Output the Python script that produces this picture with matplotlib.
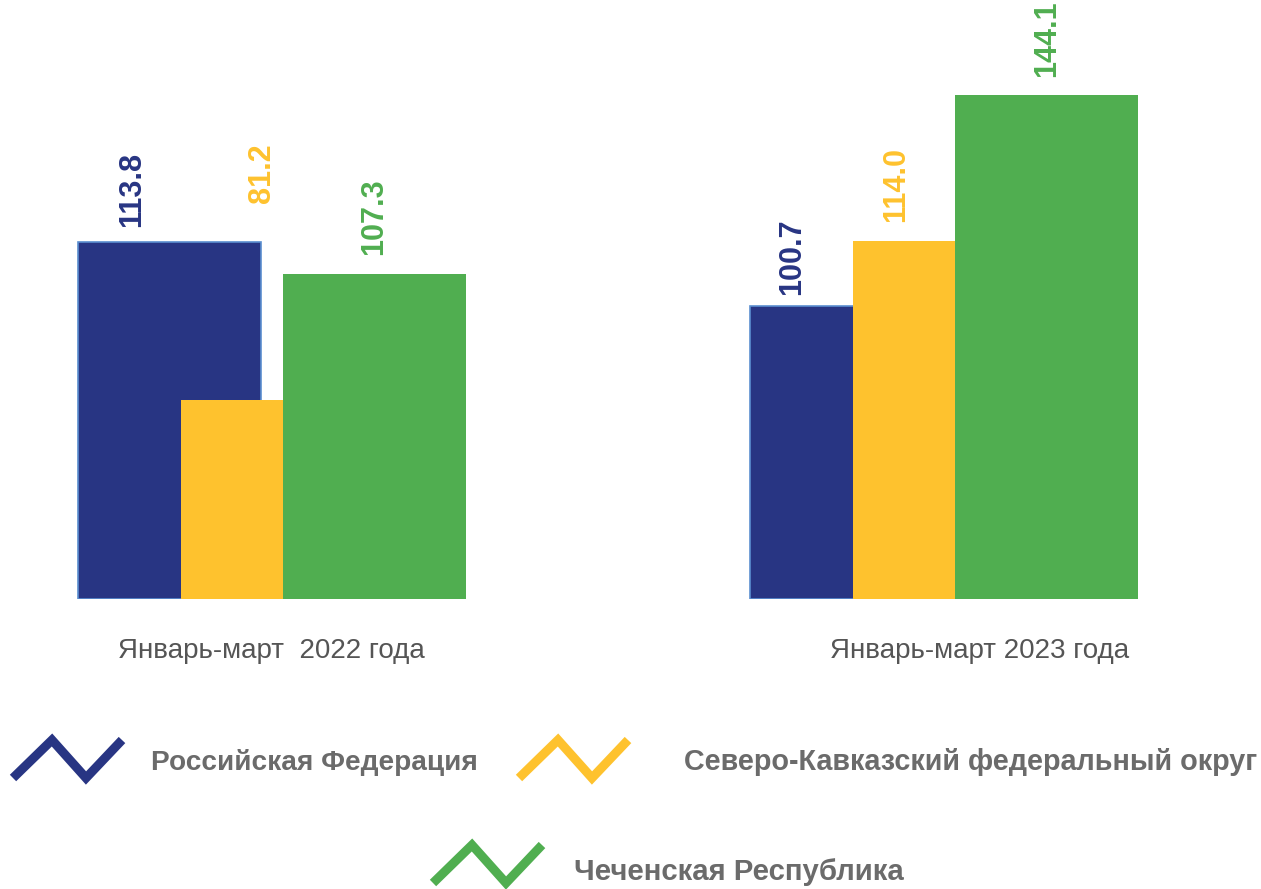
import numpy as np
import matplotlib.pyplot as plt
from matplotlib.lines import Line2D

plt.rcParams['font.family'] = ['Liberation Sans', 'DejaVu Sans']

# данные
periods = ["Январь-март  2022 года", "Январь-март 2023 года"]
series = ["Российская Федерация", "Северо-Кавказский федеральный округ", "Чеченская Республика"]
rf = [113.8, 100.7]
skfo = [81.2, 114.0]
chr_ = [107.3, 144.1]

colors = ['#283583', '#FEC22E', '#50AE50']

W, H = 1261, 889
fig = plt.figure(figsize=(W / 100, H / 100), dpi=100)

# оси: низ на 599 px, ось y начинается примерно с 40
y0 = 40.2
ax = fig.add_axes([0, (H - 599) / H, 1, 599 / H])
ax.set_ylim(y0, y0 + 599 / 4.85)
unit = 671.5  # px между группами
ax.set_xlim(-272 / unit, (W - 272) / unit)
ax.axis('off')

x = np.arange(len(periods))
# левый край и ширина столбиков (в долях группы)
lefts = [-194 / unit, -91 / unit, 11 / unit]
widths = [183 / unit, 102 / unit, 183 / unit]

vals = [rf, skfo, chr_]
for i, v in enumerate(vals):
    ec = '#5B8FD0' if i == 0 else colors[i]
    lw = 1.2 if i == 0 else 0
    bars = ax.bar(x + lefts[i], np.array(v) - y0, widths[i], bottom=y0, align='edge',
                  color=colors[i], edgecolor=ec, linewidth=lw, zorder=2 + i)

# подписи значений (смещения в px от центра столбика)
dx = [[-37, -49], [30, -7], [0, 1]]
dy = [[15, 11], [197, 19], [19, 18]]
for i, v in enumerate(vals):
    for j, val in enumerate(v):
        cx = x[j] + lefts[i] + widths[i] / 2
        ax.annotate(f"{val:.1f}", xy=(cx, val), xytext=(dx[i][j] * 0.72, dy[i][j] * 0.72),
                    textcoords='offset points', rotation=90, ha='center', va='bottom',
                    fontsize=22, fontweight='bold', color=colors[i], annotation_clip=False)

# подписи периодов
cat_dx = [-1, 36.5]
for j, p in enumerate(periods):
    ax.annotate(p, xy=(x[j] + cat_dx[j] / unit, (H - 651) / H), xycoords=('data', 'figure fraction'),
                ha='center', va='center', fontsize=20, color='#555555', annotation_clip=False)

# легенда
zig_x = np.array([0, 39, 73, 109])
zig_y = np.array([0, 38, 0, 38])


def legend_item(px, py, color, label, tx, ty, fs):
    fig.add_artist(Line2D((px + zig_x) / W, (H - py + zig_y) / H, transform=fig.transFigure,
                          color=color, linewidth=6.5, solid_joinstyle='miter',
                          solid_capstyle='butt'))
    fig.text(tx / W, (H - ty) / H, label, ha='left', va='center', fontsize=fs,
             fontweight='bold', color='#6B6B6B')


legend_item(13, 778, colors[0], series[0], 151, 762, 20.2)
legend_item(519, 778, colors[1], series[1], 684, 762, 20.7)
legend_item(433, 883, colors[2], series[2], 574, 872, 21.2)

plt.savefig('out.png', dpi=100)
